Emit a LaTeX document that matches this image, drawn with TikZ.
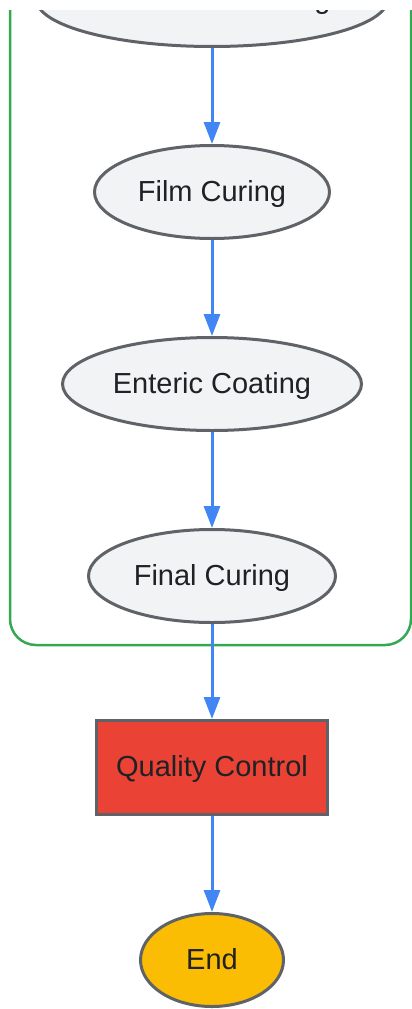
\documentclass[tikz,border=0pt]{standalone}
\usepackage{fontspec}
\setmainfont{Liberation Sans}
\usetikzlibrary{shapes.geometric}
\usetikzlibrary{arrows.meta}
\pgfdeclarelayer{edgelayer}
\pgfdeclarelayer{nodelayer}
\pgfsetlayers{edgelayer,nodelayer,main}
\definecolor{stepfill}{HTML}{F1F3F4}
\definecolor{stepline}{HTML}{5F6368}
\definecolor{flowblue}{HTML}{4285F4}
\definecolor{groupgreen}{HTML}{34A853}
\definecolor{qcred}{HTML}{EA4335}
\definecolor{endyellow}{HTML}{FBBC04}
\definecolor{labelgrey}{HTML}{202124}
\tikzstyle{process}=[ellipse,fill=stepfill,draw=stepline,line width=3pt,inner sep=0pt,minimum height=93pt,text height=21pt,text depth=3pt,text=labelgrey,font=\fontsize{29}{35}\selectfont]
\tikzstyle{check}=[process,rectangle,fill=qcred]
\tikzstyle{terminal}=[process,fill=endyellow]
\tikzstyle{flow}=[-{Triangle[length=22pt,width=16pt]},draw=flowblue,line width=3pt]
\tikzstyle{group}=[draw=groupgreen,line width=2.5pt,rounded corners=26pt]

\begin{document}
\begin{tikzpicture}[x=1pt,y=-1pt]
	\useasboundingbox (0,0) rectangle (412,1009);
	\begin{pgfonlayer}{nodelayer}
		\node [style=process, minimum width=351pt, minimum height=94pt] (0) at (212, -0.5) {Protective Coating};
		\node [style=process, minimum width=235pt] (1) at (212, 192) {Film Curing};
		\node [style=process, minimum width=299pt] (2) at (212, 384) {Enteric Coating};
		\node [style=process, minimum width=247pt] (3) at (212, 576) {Final Curing};
		\node [style=check, minimum width=231pt, minimum height=94pt] (4) at (212, 767.5) {Quality Control};
		\node [style=terminal, minimum width=143pt] (5) at (212, 960) {End};
	\end{pgfonlayer}
	\begin{pgfonlayer}{edgelayer}
		\draw [style=group] (10, -60) rectangle (411, 645);
		\draw [style=flow] (0) to (1);
		\draw [style=flow] (1) to (2);
		\draw [style=flow] (2) to (3);
		\draw [style=flow] (3) to (4);
		\draw [style=flow] (4) to (5);
	\end{pgfonlayer}
	\fill [white] (0, 0) rectangle (412, 10);
\end{tikzpicture}
\end{document}
